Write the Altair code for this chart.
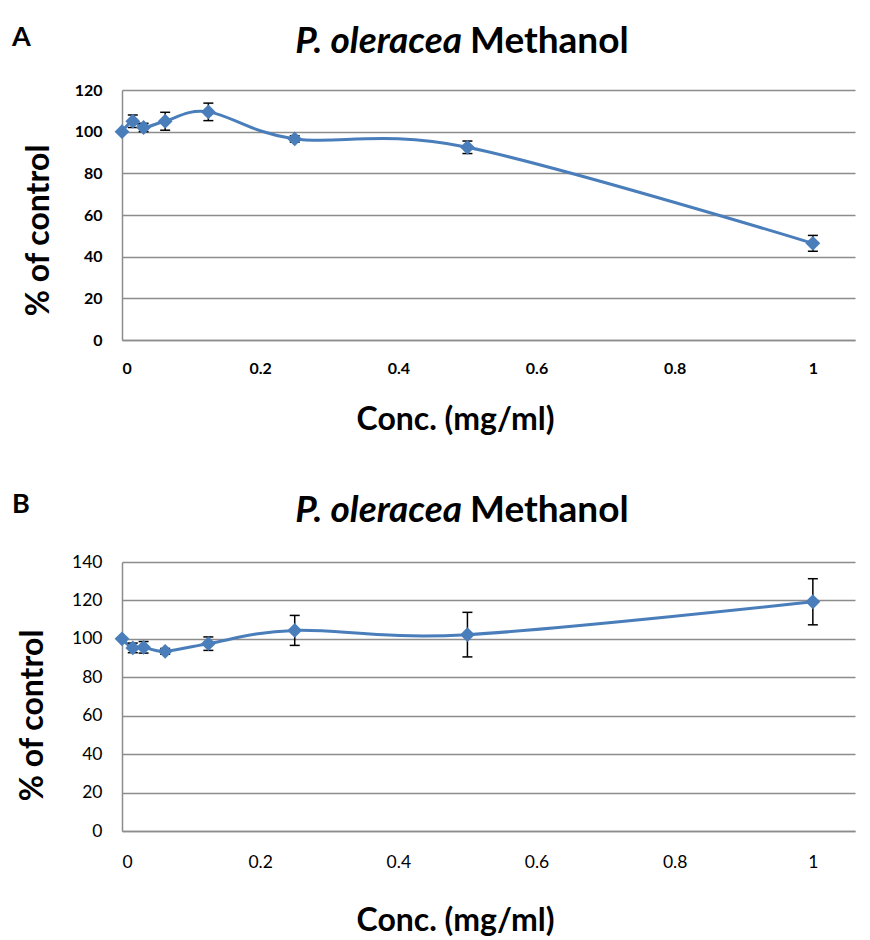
import altair as alt
import pandas as pd

conc = [0, 0.015625, 0.03125, 0.0625, 0.125, 0.25, 0.5, 1]
a_vals = [100, 105, 102, 105, 109.5, 96.5, 92.5, 46.4]
a_err = [0, 3, 2, 4.3, 4.2, 1.5, 3, 3.8]
b_vals = [100, 95.3, 95.6, 93.5, 97.5, 104.4, 102.2, 119.3]
b_err = [0, 2.5, 3, 1.5, 3.5, 7.8, 11.6, 12]

x_ticks = [0, 0.2, 0.4, 0.6, 0.8, 1]
a_y_ticks = [0, 20, 40, 60, 80, 100, 120]
b_y_ticks = [0, 20, 40, 60, 80, 100, 120, 140]

title_italic = "P. oleracea"
title_plain = "Methanol"
x_title = "Conc. (mg/ml)"
y_title = "% of control"

FONT = "Lato"
BLUE = "#4A7EBB"
GRID = "#8C8C8C"
W = 733


def panel(vals, errs, yticks, ymax, h, letter, bold_labels, lab_size, ty, ly, xt_y, yt_x, yt_y, lab_pad):
    df = pd.DataFrame({"x": conc, "y": vals, "err": errs})
    df["lo"] = df["y"] - df["err"]
    df["hi"] = df["y"] + df["err"]
    lw = "bold" if bold_labels else "normal"
    xs = alt.Scale(domain=[0, 1.061], nice=False, zero=False)
    ys = alt.Scale(domain=[0, ymax], nice=False)
    xax = alt.Axis(values=x_ticks, format="~g", grid=False, ticks=False, domainColor=GRID,
                   domainWidth=1.5, labelFont=FONT, labelFontSize=lab_size, labelFontWeight=lw,
                   labelColor="black", labelPadding=lab_pad, labelOverlap=False,
                   title=x_title, titleFont=FONT,
                   titleFontSize=32, titleFontWeight="bold", titleColor="black",
                   titleX=333, titleY=xt_y, titleBaseline="alphabetic", titleAlign="center")
    yax = alt.Axis(values=yticks, grid=True, gridColor=GRID, gridWidth=1.3, ticks=False,
                   domainColor=GRID, domainWidth=1.5, labelFont=FONT, labelFontSize=lab_size,
                   labelFontWeight=lw, labelColor="black", labelPadding=20, labelOverlap=False,
                   title=y_title,
                   titleFont=FONT, titleFontSize=32, titleFontWeight="bold", titleColor="black",
                   titleAngle=-90, titleX=yt_x, titleY=yt_y, titleAlign="center",
                   titleBaseline="middle")
    X = lambda f: alt.X(f, type="quantitative", scale=xs, axis=xax)
    Y = lambda f: alt.Y(f, type="quantitative", scale=ys, axis=yax)
    base = alt.Chart(df)
    line = base.mark_line(interpolate="cardinal", color=BLUE, strokeWidth=3).encode(
        x=X("x"), y=Y("y"))
    eb = base.transform_filter("datum.err > 0")
    rule = eb.mark_rule(color="black", strokeWidth=1.5).encode(
        x=X("x"), y=Y("lo"), y2="hi:Q")
    cap_t = eb.mark_rule(color="black", strokeWidth=1.5, xOffset=-5, x2Offset=5).encode(
        x=X("x"), x2="x", y=Y("hi"))
    cap_b = eb.mark_rule(color="black", strokeWidth=1.5, xOffset=-5, x2Offset=5).encode(
        x=X("x"), x2="x", y=Y("lo"))
    pts = base.mark_point(shape="diamond", filled=True, size=220, color=BLUE, opacity=1).encode(
        x=X("x"), y=Y("y"))
    t1 = alt.Chart(pd.DataFrame({"t": [title_italic]})).mark_text(
        font=FONT, fontSize=37, fontStyle="italic", fontWeight="bold", align="right",
        baseline="alphabetic", color="black").encode(
        text="t:N", x=alt.value(340), y=alt.value(ty))
    t2 = alt.Chart(pd.DataFrame({"t": [title_plain]})).mark_text(
        font=FONT, fontSize=37, fontWeight="bold", align="left",
        baseline="alphabetic", color="black").encode(
        text="t:N", x=alt.value(348), y=alt.value(ty))
    t3 = alt.Chart(pd.DataFrame({"t": [letter]})).mark_text(
        font=FONT, fontSize=27, fontWeight="bold", align="left",
        baseline="alphabetic", color="black").encode(
        text="t:N", x=alt.value(-110), y=alt.value(ly))
    return alt.layer(line, rule, cap_t, cap_b, pts, t1, t2, t3).properties(width=W, height=h)


A = panel(a_vals, a_err, a_y_ticks, 120, 250, "A", True, 16, -37.5, -44.5, 89.5, -84, 140, 20)
B = panel(b_vals, b_err, b_y_ticks, 140, 269, "B", False, 17.5, -40, -49, 99, -90, 153, 22)

chart = alt.vconcat(A, B, spacing=55).properties(
    padding={"left": 12, "top": 22, "right": 10, "bottom": 0}
).configure_view(stroke=None)

chart.save("out.html", embed_options={"renderer": "svg", "actions": False})
